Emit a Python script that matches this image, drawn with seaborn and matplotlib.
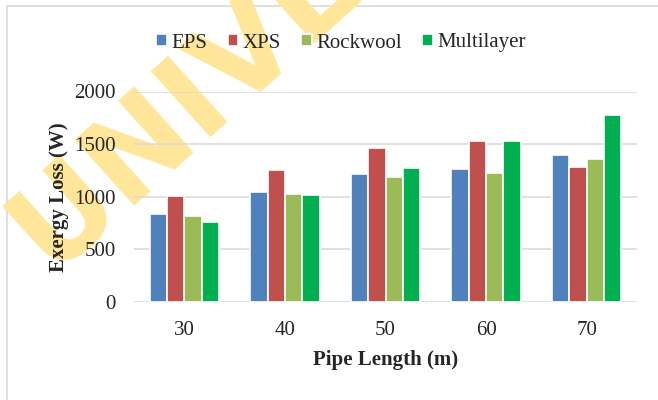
import matplotlib
matplotlib.use("Agg")
import matplotlib.pyplot as plt
import seaborn as sns
import pandas as pd
from matplotlib.patches import Rectangle

lengths = ["30", "40", "50", "60", "70"]
materials = ["EPS", "XPS", "Rockwool", "Multilayer"]
eps = [840, 1045, 1215, 1265, 1400]
xps = [1010, 1255, 1460, 1525, 1285]
rockwool = [820, 1022, 1190, 1228, 1360]
multilayer = [762, 1018, 1272, 1528, 1780]
colors = ["#4F81BD", "#C0504D", "#9BBB59", "#00B050"]
yticks = [0, 500, 1000, 1500, 2000]

rows = []
for mat, vals in zip(materials, [eps, xps, rockwool, multilayer]):
    for L, v in zip(lengths, vals):
        rows.append({"Pipe Length (m)": L, "Material": mat, "Exergy Loss (W)": v})
df = pd.DataFrame(rows)

sns.set_style("white")
plt.rcParams["font.family"] = ["Liberation Serif", "DejaVu Serif"]

fig = plt.figure(figsize=(6.58, 4.0), dpi=100)
ax = fig.add_axes([134/658, 98/400, (637-134)/658, (302-91.5)/400])
ax.set_facecolor("none")

# watermark
fig.text(50/658, 1 - 272/400, "UNIVE", rotation=42, rotation_mode="anchor",
         ha="left", va="baseline", fontsize=88, fontweight="bold",
         family="DejaVu Sans", color="#FFE699", zorder=-1)

# frame
fig.add_artist(Rectangle((7/658, -0.1), 1.2, 1.1 - 6/400, transform=fig.transFigure,
                         fill=False, edgecolor="#D9D9D9", linewidth=1.2, zorder=-2))

sns.barplot(data=df, x="Pipe Length (m)", y="Exergy Loss (W)", hue="Material",
            hue_order=materials, order=lengths, palette=colors, width=0.69,
            edgecolor="white", linewidth=1.2, saturation=1, ax=ax, zorder=3)

ax.set_ylim(0, 2000)
ax.set_xlim(-0.5, 4.5)
ax.set_yticks(yticks)
ax.yaxis.grid(True, color="#D9D9D9", linewidth=1.1)
ax.set_axisbelow(True)
for s in ax.spines.values():
    s.set_visible(False)
ax.tick_params(axis="x", length=0, pad=14, labelsize=15)
ax.tick_params(axis="y", length=0, pad=13, labelsize=15)
ax.set_xlabel("Pipe Length (m)", fontsize=15, fontweight="bold", labelpad=7)
ax.set_ylabel("Exergy Loss (W)", fontsize=15, fontweight="bold", labelpad=4)

handles, labels = ax.get_legend_handles_labels()
ax.legend(handles, labels, loc="center", bbox_to_anchor=(341/658, 1 - 43/400),
          bbox_transform=fig.transFigure, ncol=4, frameon=False, fontsize=15,
          handlelength=0.5, handleheight=0.5, handletextpad=0.2, columnspacing=1.0)

fig.savefig("out.png", dpi=100)
